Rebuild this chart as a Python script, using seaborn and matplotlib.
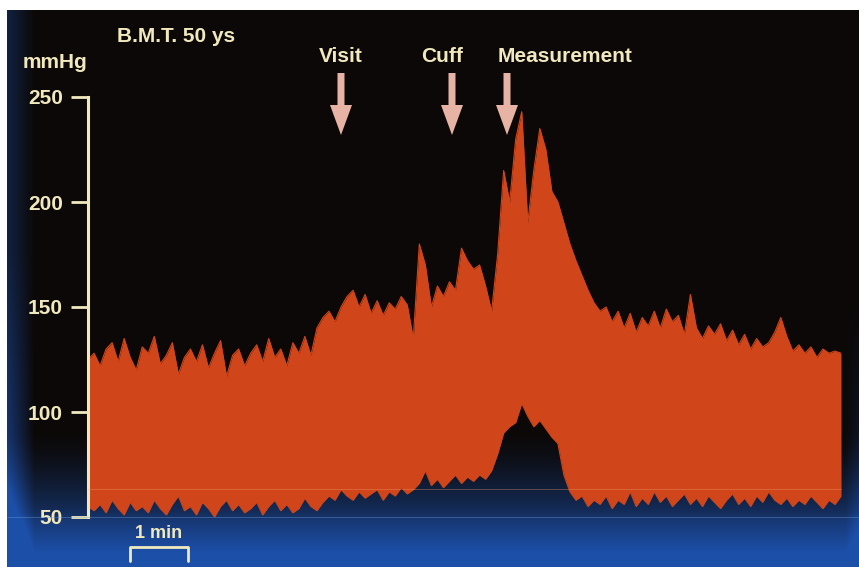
import numpy as np
import pandas as pd
import matplotlib
matplotlib.use("Agg")
import matplotlib.pyplot as plt
from matplotlib.patches import FancyArrow, Rectangle
import seaborn as sns

# ---------------- data (mmHg, one sample every ~6 px of trace) ----------------
systolic = [125, 128, 122, 130, 133, 124, 135, 126, 120, 131, 128, 136, 123, 127, 133, 118,
            126, 130, 124, 132, 121, 128, 134, 117, 127, 130, 122, 128, 132, 124, 135, 126,
            130, 122, 133, 128, 136, 127, 140, 145,
            148, 143, 150, 155, 158, 150, 156, 147, 153, 146, 152, 149, 155, 151, 135, 180,
            170, 150, 160, 155, 162, 158, 178, 172, 168, 170, 160, 148, 175, 215, 200, 230,
            243, 190, 215, 235, 225, 205, 200, 190, 180, 172, 165, 158, 152, 148, 150, 143,
            148, 140, 147, 138, 145, 141, 148, 140, 149, 143, 146, 137, 156, 140, 135, 141,
            137, 142, 134, 139, 132, 137, 130, 135, 131, 133, 138, 145, 136, 129, 132, 128,
            131, 126, 130, 128, 129, 128]
diastolic = [55, 53, 56, 52, 58, 54, 51, 57, 53, 55, 52, 58, 54, 51, 56, 60,
             53, 55, 51, 57, 54, 50, 55, 58, 53, 56, 52, 54, 57, 51, 55, 58,
             53, 56, 52, 54, 59, 55, 53, 57,
             60, 58, 63, 60, 58, 62, 59, 61, 63, 58, 62, 60, 64, 61, 63, 66,
             72, 65, 68, 64, 67, 70, 66, 69, 67, 70, 68, 72, 80, 90, 93, 95,
             104, 98, 93, 96, 92, 88, 85, 70, 62, 58, 60, 55, 58, 56, 60, 54,
             58, 56, 62, 55, 59, 56, 62, 57, 60, 55, 58, 61, 56, 59, 55, 60,
             57, 54, 58, 61, 56, 59, 55, 60, 57, 62, 58, 56, 59, 55, 58, 56,
             60, 57, 54, 58, 56, 60]
yticks = [50, 100, 150, 200, 250]
events = ["Visit", "Cuff", "Measurement"]
title_text = "B.M.T. 50 ys"
unit_text = "mmHg"
scale_text = "1 min"

assert len(systolic) == len(diastolic)
n = len(systolic)
px_per_min = 57.0
step_px = (841 - 88) / (n - 1)
df = pd.DataFrame({
    "t": np.arange(n) * step_px / px_per_min,
    "sys": systolic,
    "dia": diastolic,
})

# ---------------- style ----------------
sns.set_theme(style="dark")
plt.rcParams["font.family"] = ["Liberation Sans", "DejaVu Sans"]
cream = "#f1e9bd"
orange = "#d0461a"
W, H = 859, 567
fig = plt.figure(figsize=(W / 100, H / 100), dpi=100)
fig.patch.set_facecolor("black")

# background photo-like gradient
bg = fig.add_axes([0, 0, 1, 1], zorder=0)
yy, xx = np.mgrid[0:H, 0:W].astype(float)
v = np.clip((yy - 430) / 90.0, 0, 1) ** 1.5 * 0.6
v = v + np.clip((yy - 512) / 40.0, 0, 1) * 0.4
left = np.clip((34 - xx) / 27.0, 0, 1) * (0.35 + 0.45 * np.clip((yy - 250) / 300, 0, 1))
right = np.clip((xx - 845) / 14.0, 0, 1) * 0.25 * np.clip((yy - 300) / 200, 0, 1)
f = np.clip(v + left + right, 0, 1)[..., None]
black = np.array([0.045, 0.033, 0.03])
blue = np.array([0.11, 0.31, 0.66])
img = black * (1 - f) + blue * f
bg.imshow(img, extent=(0, W, H, 0), aspect="auto", interpolation="bilinear")
bg.add_patch(Rectangle((0, 0), W, 10, color="white", lw=0))
bg.add_patch(Rectangle((0, 0), 7, H, color="white", lw=0))
bg.set_xlim(0, W)
bg.set_ylim(H, 0)
bg.axis("off")

# main trace axes
ax = fig.add_axes([88 / W, (H - 517) / H, (841 - 88) / W, 420 / H], zorder=1)
ax.patch.set_alpha(0)
ax.fill_between(df["t"], df["dia"], df["sys"], color=orange, lw=0)
sns.lineplot(data=df, x="t", y="sys", ax=ax, color=orange, lw=0.8)
sns.lineplot(data=df, x="t", y="dia", ax=ax, color=orange, lw=0.8)
ax.set_xlim(0, df["t"].iloc[-1])
ax.set_ylim(50, 250)
ax.set_yticks(yticks)
ax.set_yticklabels([str(v) for v in yticks], fontweight="bold")
ax.set_xticks([])
ax.set_xlabel("")
ax.set_ylabel("")
ax.grid(False)
for s in ["top", "right", "bottom"]:
    ax.spines[s].set_visible(False)
ax.spines["left"].set_color(cream)
ax.spines["left"].set_linewidth(2.2)
ax.tick_params(axis="y", left=True, length=12, width=2, pad=6, colors=cream, labelsize=15)

# overlay for annotations in pixel coordinates
ov = fig.add_axes([0, 0, 1, 1], zorder=2)
ov.patch.set_alpha(0)
ov.set_xlim(0, W)
ov.set_ylim(H, 0)
ov.axis("off")

# faint screen lines
ov.plot([88, 841], [489, 489], color="#f0a070", lw=0.6, alpha=0.4)
ov.plot([7, 859], [517, 517], color="#6fa0d8", lw=0.6, alpha=0.45)

txt = dict(color=cream, fontsize=15, fontweight="bold", va="center")
ov.text(117, 37, title_text, ha="left", **txt)
ov.text(55, 63, unit_text, ha="center", **txt)
ov.text(341, 57, events[0], ha="center", **txt)
ov.text(442, 57, events[1], ha="center", **txt)
ov.text(565, 57, events[2], ha="center", **txt)

arrow_c = "#e6b3a4"
for x in [341, 452, 507]:
    ov.add_patch(FancyArrow(x, 73, 0, 62, width=7, head_width=22, head_length=30,
                            length_includes_head=True, color=arrow_c, lw=0))

# 1 min scale bar
ov.text(159, 534, scale_text, ha="center", color=cream, fontsize=13, fontweight="bold", va="center")
ov.plot([130, 130, 188, 188], [561, 547, 547, 561], color=cream, lw=2)

fig.savefig("out.png", dpi=100, facecolor=fig.get_facecolor())
